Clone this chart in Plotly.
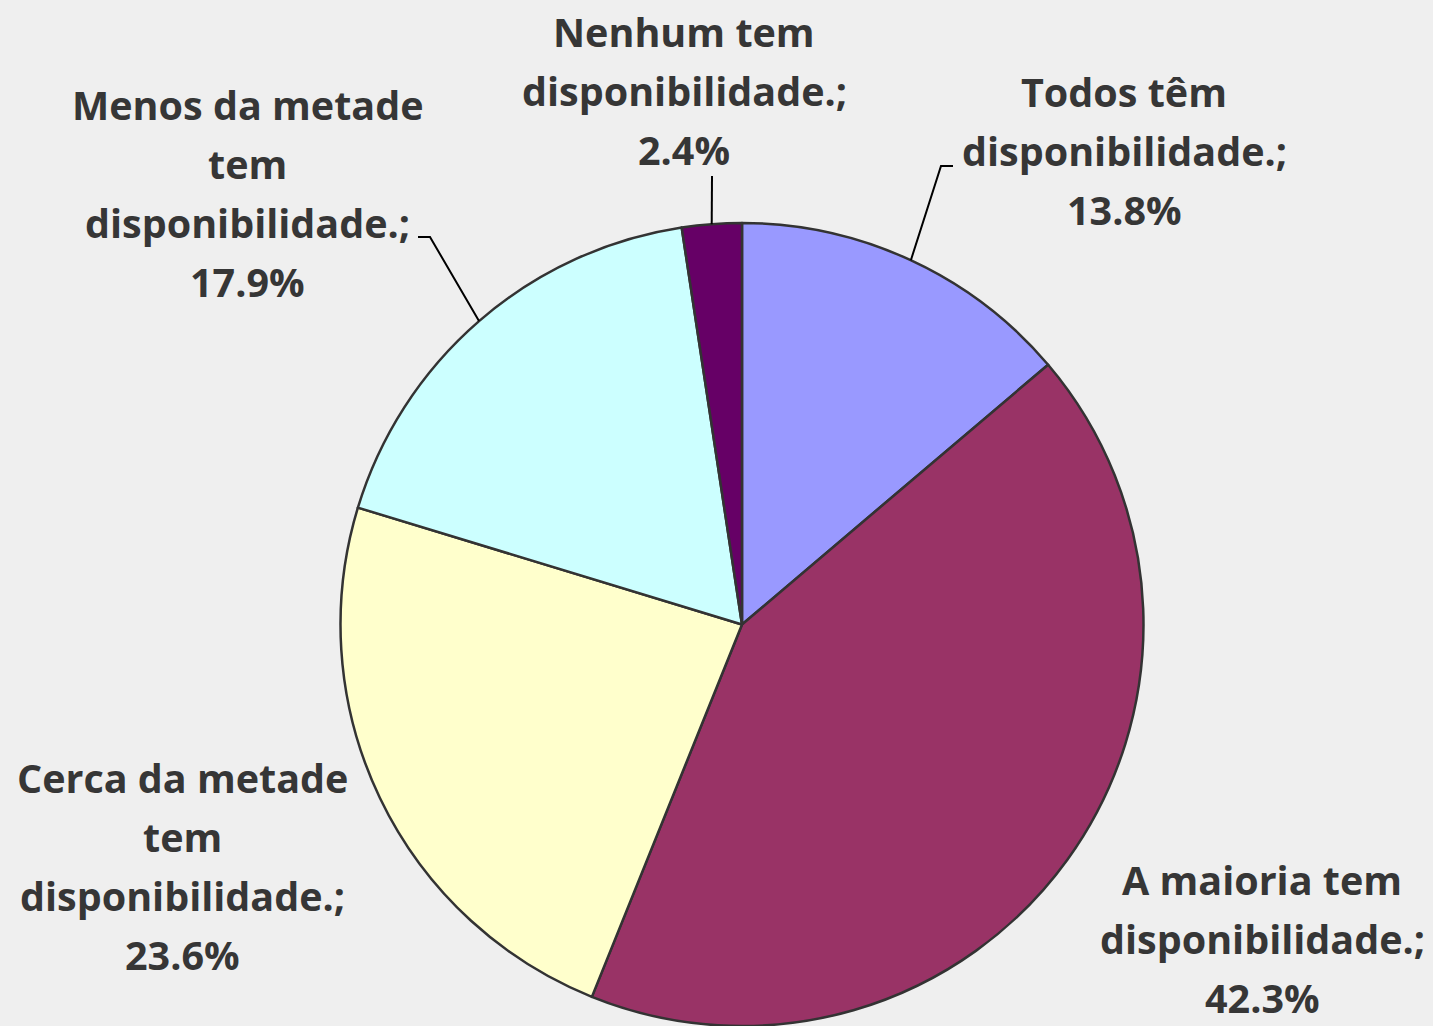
import math
import plotly.graph_objects as go

labels = ["Todos têm disponibilidade.", "A maioria tem disponibilidade.",
          "Cerca da metade tem disponibilidade.", "Menos da metade tem disponibilidade.",
          "Nenhum tem disponibilidade."]
values = [13.8, 42.3, 23.6, 17.9, 2.4]
colors = ["#9999FF", "#993366", "#FFFFCC", "#CCFFFF", "#660066"]
label_lines = [
    ["Todos têm", "disponibilidade.;", "13.8%"],
    ["A maioria tem", "disponibilidade.;", "42.3%"],
    ["Cerca da metade", "tem", "disponibilidade.;", "23.6%"],
    ["Menos da metade", "tem", "disponibilidade.;", "17.9%"],
    ["Nenhum tem", "disponibilidade.;", "2.4%"],
]

W, H = 1433, 1026
CX, CY, R = 742, 625, 402

def px(x):
    return x / W

def py(y):
    return 1 - y / H

# label block layout (center x, first line y) in pixels
label_pos = [(1124, 92), (1262, 880), (183, 778), (247, 105), (684, 32)]
LINE_H = 59
# leader line elbows (None = no leader)
elbows = [[(941, 166), (953, 166)], None, None, [(430, 237), (418, 237)], [(712, 176)]]

fig = go.Figure()
fig.add_trace(go.Pie(
    labels=labels, values=values, sort=False, direction="clockwise", rotation=0,
    marker=dict(colors=colors, line=dict(color="#333333", width=2.5)),
    textinfo="none", hoverinfo="label+percent", showlegend=False,
    domain=dict(x=[px(CX - R), px(CX + R)], y=[max(0, py(CY + R)), py(CY - R)]),
))

annotations = []
for (cx, y0), lines in zip(label_pos, label_lines):
    for i, t in enumerate(lines):
        annotations.append(dict(
            x=px(cx), y=py(y0 + i * LINE_H), xref="paper", yref="paper",
            text="<b>" + t + "</b>", showarrow=False, xanchor="center", yanchor="middle",
            font=dict(family="Open Sans", size=39.5, color="#363636"),
        ))

shapes = []
cum = 0.0
total = sum(values)
for v, el in zip(values, elbows):
    mid = (cum + v / 2) / total * 2 * math.pi
    cum += v
    if el is None:
        continue
    sx = CX + R * math.sin(mid)
    sy = CY - R * math.cos(mid)
    pts = [(sx, sy)] + el
    path = "M " + " L ".join(f"{px(x):.5f},{py(y):.5f}" for x, y in pts)
    shapes.append(dict(type="path", path=path, xref="paper", yref="paper",
                       line=dict(color="#000000", width=2)))

fig.update_layout(
    width=W, height=H, margin=dict(l=0, r=0, t=0, b=0),
    paper_bgcolor="#EFEFEF", plot_bgcolor="#EFEFEF",
    annotations=annotations, shapes=shapes,
)
fig.write_html("out.html", config={"displayModeBar": False},
               post_script="document.body.style.margin='0';document.body.style.background='#EFEFEF';")
